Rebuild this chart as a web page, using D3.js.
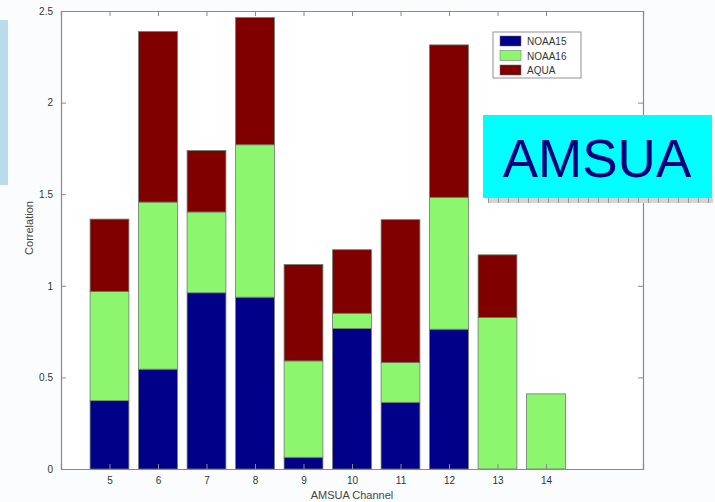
<!DOCTYPE html>
<html>
<head>
<meta charset="utf-8">
<script src="https://cdn.jsdelivr.net/npm/d3@7"></script>
<style>
  body { margin: 0; background: #fbfcfd; }
  svg { display: block; font-family: "Liberation Sans", Arial, sans-serif; }
</style>
</head>
<body>
<div id="chart"></div>
<script>
// data
var channels = [5, 6, 7, 8, 9, 10, 11, 12, 13, 14];
var noaa15 = [0.373, 0.545, 0.962, 0.938, 0.064, 0.767, 0.364, 0.763, 0, 0];
var noaa16 = [0.596, 0.912, 0.441, 0.832, 0.526, 0.083, 0.217, 0.720, 0.827, 0.410];
var aqua   = [0.395, 0.931, 0.335, 0.694, 0.526, 0.347, 0.780, 0.832, 0.342, 0];
var seriesNames = ["NOAA15", "NOAA16", "AQUA"];
var yTicks = [0, 0.5, 1, 1.5, 2, 2.5];

var width = 715, height = 502;
var plotLeft = 61, plotRight = 643, plotTop = 11, plotBottom = 469;
var colors = ["#000088", "#8cf76e", "#800000"];
var axisColor = "#8a8a8a";

var svg = d3.select("#chart").append("svg")
    .attr("width", width)
    .attr("height", height);

/* slide background bits */
svg.append("rect").attr("x", 0).attr("y", 0).attr("width", width).attr("height", height).attr("fill", "#fbfcfd");
svg.append("rect").attr("x", 0).attr("y", 20).attr("width", 8).attr("height", 165).attr("fill", "#b9dbeb");

var x = d3.scaleLinear().domain([4, 16]).range([plotLeft, plotRight]);
var y = d3.scaleLinear().domain([0, 2.5]).range([plotBottom, plotTop]);
var barW = (x(1) - x(0)) * 0.8;

/* plot area */
svg.append("rect")
    .attr("x", plotLeft).attr("y", plotTop)
    .attr("width", plotRight - plotLeft).attr("height", plotBottom - plotTop)
    .attr("fill", "#ffffff");

var table = channels.map(function(c, i) {
    return { channel: c, NOAA15: noaa15[i], NOAA16: noaa16[i], AQUA: aqua[i] };
});
var stacked = d3.stack().keys(seriesNames)(table);

svg.append("g").selectAll("g")
    .data(stacked).enter()
    .append("g")
    .attr("fill", (d, i) => colors[i])
    .selectAll("rect")
    .data(d => d.filter(p => p[1] - p[0] > 0)).enter()
    .append("rect")
    .attr("x", d => x(d.data.channel) - barW / 2)
    .attr("y", d => y(d[1]))
    .attr("width", barW)
    .attr("height", d => y(d[0]) - y(d[1]))
    .attr("stroke", "#6f7a6f")
    .attr("stroke-width", 0.8);

/* axes, matlab style box with inward ticks */
var xAxis = d3.axisBottom(x).tickValues(channels).tickSize(-5).tickPadding(8);
var yAxis = d3.axisLeft(y).tickValues(yTicks).tickSize(-5).tickPadding(8).tickFormat(d3.format("~g"));

var gx = svg.append("g")
    .attr("transform", `translate(0, ${plotBottom})`)
    .call(xAxis);
var gy = svg.append("g")
    .attr("transform", `translate(${plotLeft}, 0)`)
    .call(yAxis);
var gxTop = svg.append("g")
    .attr("transform", `translate(0, ${plotTop})`)
    .call(d3.axisTop(x).tickValues(channels).tickSize(-5).tickFormat(""));
var gyRight = svg.append("g")
    .attr("transform", `translate(${plotRight}, 0)`)
    .call(d3.axisRight(y).tickValues(yTicks).tickSize(-5).tickFormat(""));

[gx, gy, gxTop, gyRight].forEach(function(g) {
    g.select(".domain").attr("stroke", axisColor).attr("stroke-width", 1.2);
    g.selectAll(".tick line").attr("stroke", axisColor);
    g.selectAll("text").attr("fill", "#333").style("font-size", "10px")
        .style("font-family", "'Liberation Sans', Arial, sans-serif");
});

svg.append("text")
    .attr("x", (plotLeft + plotRight) / 2).attr("y", 499)
    .attr("text-anchor", "middle")
    .attr("fill", "#444")
    .style("font-size", "11px")
    .text("AMSUA Channel");

svg.append("text")
    .attr("transform", "translate(33, 228) rotate(-90)")
    .attr("text-anchor", "middle")
    .attr("fill", "#444")
    .style("font-size", "11px")
    .text("Correlation");

/* legend */
var legend = svg.append("g").attr("transform", "translate(493, 32)");
legend.append("rect")
    .attr("width", 88).attr("height", 46)
    .attr("fill", "#fff").attr("stroke", "#777").attr("stroke-width", 0.8);
seriesNames.forEach(function(name, i) {
    legend.append("rect")
        .attr("x", 7).attr("y", 4 + i * 14.5)
        .attr("width", 21).attr("height", 10)
        .attr("fill", colors[i]).attr("stroke", "#666").attr("stroke-width", 0.5);
    legend.append("text")
        .attr("x", 34).attr("y", 13 + i * 14.5)
        .attr("fill", "#333")
        .style("font-size", "10px")
        .text(name);
});

/* AMSUA label box from the slide */
svg.append("rect")
    .attr("x", 488).attr("y", 198).attr("width", 225).attr("height", 5)
    .attr("fill", "#d4d4d4");
svg.append("line")
    .attr("x1", 488).attr("x2", 713).attr("y1", 200.5).attr("y2", 200.5)
    .attr("stroke", "#999").attr("stroke-width", 5).attr("stroke-dasharray", "1,9");
svg.append("rect")
    .attr("x", 483).attr("y", 115).attr("width", 229).attr("height", 83)
    .attr("fill", "#00ffff");
svg.append("text")
    .attr("x", 597).attr("y", 177)
    .attr("text-anchor", "middle")
    .attr("fill", "#000080")
    .style("font-size", "53px")
    .text("AMSUA");
</script>
</body>
</html>
